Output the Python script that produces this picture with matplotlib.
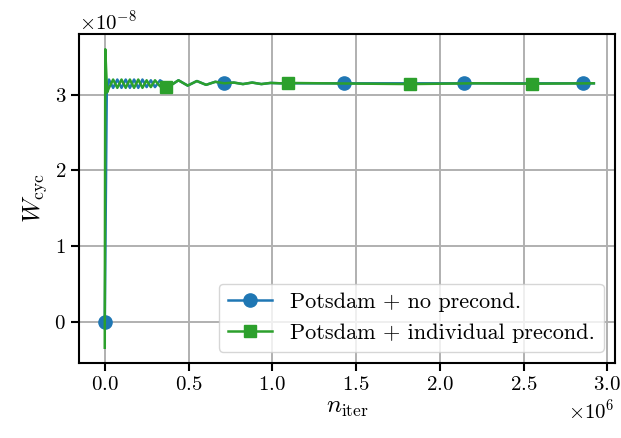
import numpy as np
import matplotlib
matplotlib.use("Agg")
import matplotlib.pyplot as plt

# ===========================================
# DATA  (x in units of 1e6 iterations, y in units of 1e-8)
# ===========================================
blue_x = [0.0, 0.012, 0.025, 0.05, 0.075, 0.10, 0.125, 0.15, 0.175, 0.20,
          0.225, 0.25, 0.275, 0.30, 0.33, 0.385, 0.44, 0.495, 0.55, 0.605,
          0.66, 0.714, 0.77, 0.825, 0.88, 0.935, 0.99, 1.05, 1.2, 1.428,
          1.8, 2.142, 2.5, 2.856, 2.92]
blue_y = [0.0, 3.06, 3.20, 3.09, 3.20, 3.09, 3.20, 3.09, 3.20, 3.09,
          3.20, 3.10, 3.19, 3.10, 3.19, 3.11, 3.19, 3.12, 3.18, 3.13,
          3.17, 3.15, 3.16, 3.14, 3.16, 3.14, 3.155, 3.15, 3.15, 3.15,
          3.15, 3.15, 3.15, 3.15, 3.15]
blue_marks = [0.0, 0.714, 1.428, 2.142, 2.856]

green_x = [0.0, 0.003, 0.014, 0.025, 0.05, 0.075, 0.10, 0.125, 0.15, 0.175,
           0.20, 0.225, 0.25, 0.275, 0.30, 0.33, 0.364, 0.385, 0.44, 0.495,
           0.55, 0.605, 0.66, 0.714, 0.77, 0.825, 0.88, 0.935, 0.99, 1.05,
           1.093, 1.3, 1.822, 2.2, 2.551, 2.92]
green_y = [-0.34, 3.60, 3.03, 3.09, 3.20, 3.09, 3.20, 3.09, 3.20, 3.09,
           3.20, 3.09, 3.19, 3.10, 3.19, 3.11, 3.10, 3.11, 3.19, 3.12,
           3.18, 3.13, 3.17, 3.15, 3.16, 3.14, 3.16, 3.14, 3.155, 3.15,
           3.155, 3.15, 3.14, 3.15, 3.145, 3.15]
green_marks = [0.364, 1.093, 1.822, 2.551]

labels = ["Potsdam + no precond.", "Potsdam + individual precond."]

# ===========================================
# STYLE
# ===========================================
plt.rcParams["font.family"] = "serif"
plt.rcParams["font.serif"] = ["cmr10", "DejaVu Serif"]
plt.rcParams["mathtext.fontset"] = "cm"
plt.rcParams["axes.unicode_minus"] = False
plt.rcParams["axes.formatter.use_mathtext"] = True
plt.rcParams["font.size"] = 15


def main():
    fig, ax = plt.subplots(figsize=(6.21, 4.38), dpi=100)
    fig.subplots_adjust(left=0.1277, right=0.990, bottom=0.172, top=0.9217)

    bx = np.array(blue_x) * 1e6
    by = np.array(blue_y) * 1e-8
    gx = np.array(green_x) * 1e6
    gy = np.array(green_y) * 1e-8

    ax.plot(bx, by, color="#1f77b4", lw=1.8, marker="o", ms=9.5,
            markevery=[blue_x.index(v) for v in blue_marks], label=labels[0])
    ax.plot(gx, gy, color="#2ca02c", lw=1.8, marker="s", ms=9,
            markevery=[green_x.index(v) for v in green_marks], label=labels[1])

    ax.set_xlim(-0.152e6, 3.045e6)
    ax.set_ylim(-0.537e-8, 3.797e-8)
    ax.set_xticks(np.arange(0, 3.01e6, 0.5e6))
    ax.set_yticks([0, 1e-8, 2e-8, 3e-8])

    ax.grid(True, color="#b0b0b0", lw=1.4)
    ax.set_axisbelow(True)
    for s in ax.spines.values():
        s.set_linewidth(1.5)
    ax.tick_params(width=1.5, length=6)

    ax.set_xlabel(r"$n_\mathrm{iter}$", fontsize=18, labelpad=2)
    ax.set_ylabel(r"$W_\mathrm{cyc}$", fontsize=18)
    ax.legend(loc="lower right", fontsize=16)

    fig.savefig("out.png", dpi=100)


if __name__ == "__main__":
    main()
